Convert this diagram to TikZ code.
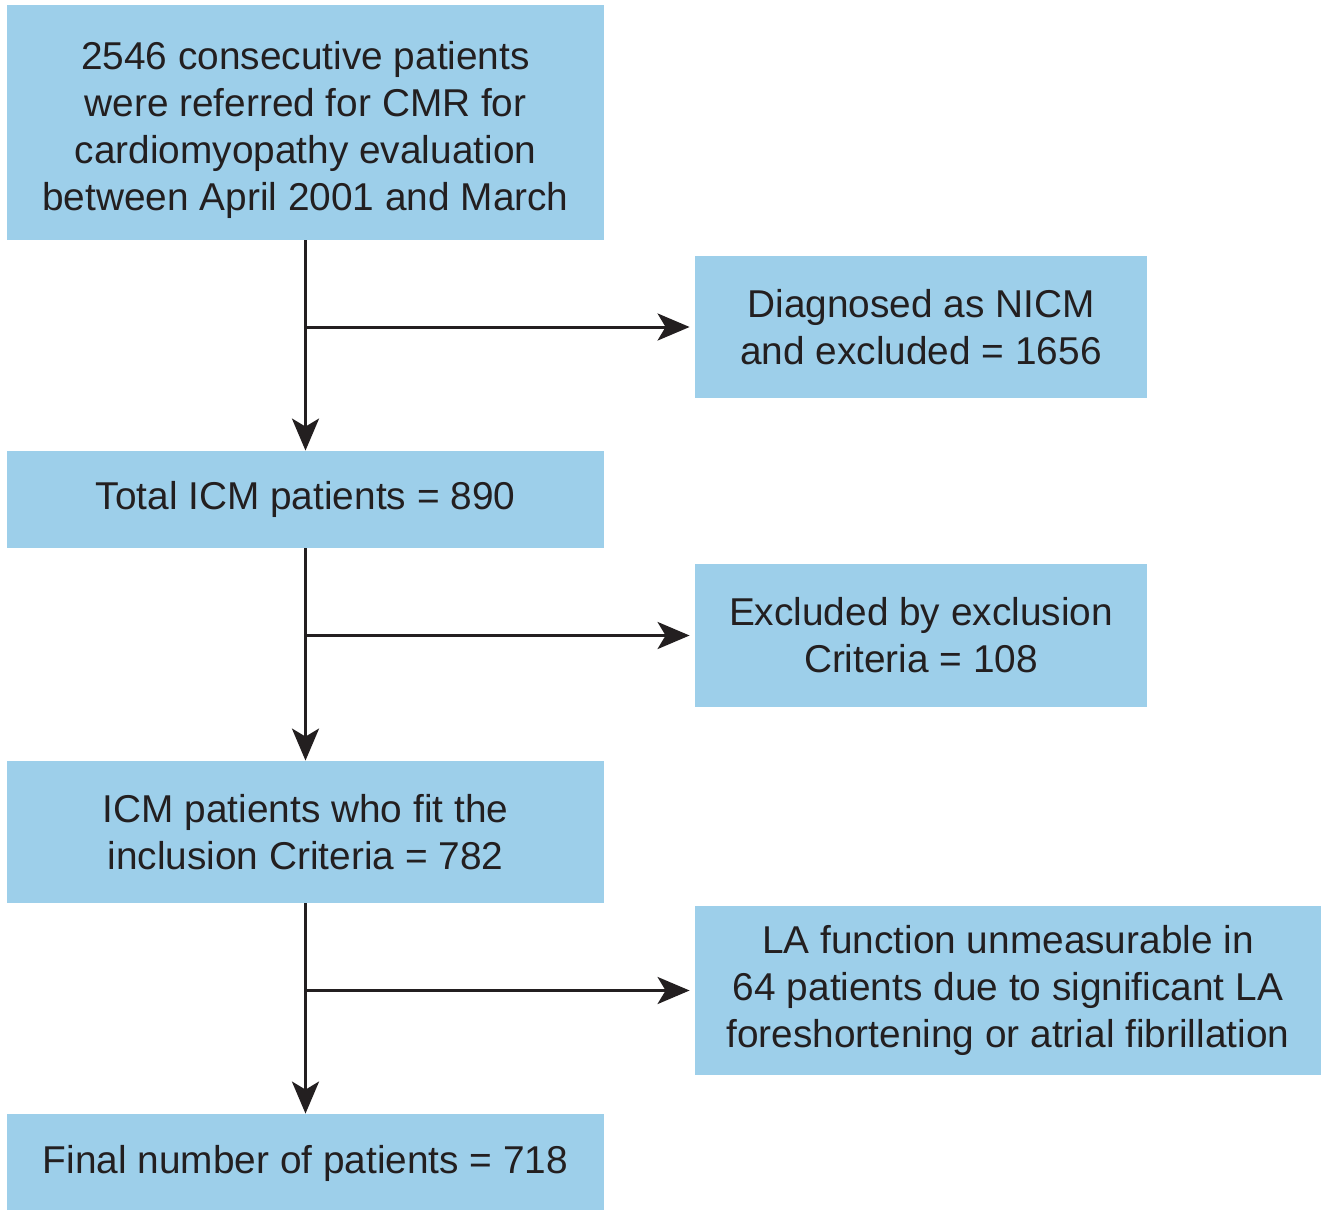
\documentclass[tikz,border=0pt]{standalone}
\usepackage{fontspec}
\setmainfont{Liberation Sans}
\usetikzlibrary{arrows.meta}
\definecolor{boxblue}{HTML}{9DCFEA}
\definecolor{inkgray}{HTML}{231F20}
\begin{document}
\begin{tikzpicture}[x=0.5pt, y=-0.5pt]
	\tikzstyle{stage}=[rectangle, fill=boxblue, text=inkgray, align=center, inner sep=0pt, font=\fontsize{19.4}{23.5}\selectfont]
	\tikzstyle{flow}=[draw=inkgray, line width=1.5pt, -{Stealth[length=16pt, width=13.5pt, inset=4pt]}]
	\useasboundingbox (0,0) rectangle (1329,1210);

	\node[stage, minimum width=298.5pt, minimum height=117.5pt] (referred) at (305.5,122.5) {
		\rule{0pt}{22pt}2546 consecutive patients\\
		were referred for CMR for\\
		cardiomyopathy evaluation\\
		between April 2001 and March
	};
	\node[stage, minimum width=226pt, minimum height=71pt] (nicm) at (921,327) {
		Diagnosed as NICM\\
		and excluded = 1656
	};
	\node[stage, minimum width=298.5pt, minimum height=48.5pt] (icm) at (305.5,499.5) {Total ICM patients = 890};
	\node[stage, minimum width=226pt, minimum height=71.5pt] (excluded) at (921,635.5) {
		Excluded by exclusion\\
		Criteria = 108
	};
	\node[stage, minimum width=298.5pt, minimum height=71pt] (included) at (305.5,832) {
		ICM patients who fit the\\
		inclusion Criteria = 782
	};
	\node[stage, minimum width=313pt, minimum height=84.5pt] (unmeasured) at (1008,990.5) {
		LA function unmeasurable in\\
		64 patients due to significant LA\\
		foreshortening or atrial fibrillation
	};
	\node[stage, minimum width=298.5pt, minimum height=49pt] (final) at (305.5,1163) {Final number of patients = 718};

	\coordinate (split1) at (305.5,327);
	\coordinate (split2) at (305.5,635.5);
	\coordinate (split3) at (305.5,990.5);

	\path
		(referred) edge[flow] (icm)
		(split1) edge[flow, shorten >=2.5pt] (nicm)
		(icm) edge[flow] (included)
		(split2) edge[flow, shorten >=2.5pt] (excluded)
		(included) edge[flow] (final)
		(split3) edge[flow, shorten >=2.5pt] (unmeasured);

\end{tikzpicture}
\end{document}
